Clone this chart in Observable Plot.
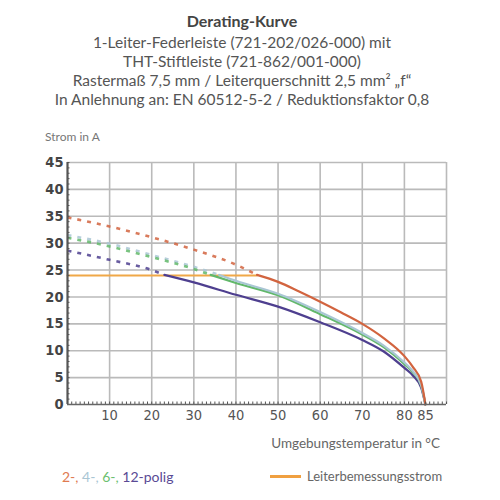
<!DOCTYPE html>
<html>
<head>
<meta charset="utf-8">
<script src="https://cdn.jsdelivr.net/npm/d3@7"></script>
<script src="https://cdn.jsdelivr.net/npm/@observablehq/plot@0.6"></script>
<style>
  html, body { margin: 0; padding: 0; background: #fff; }
  body { width: 500px; height: 500px; position: relative; overflow: hidden; font-family: Lato, "Open Sans", sans-serif; color: #555; }
  .t { position: absolute; left: 0; width: 484px; text-align: center; white-space: nowrap; }
  #title { top: 11px; font-size: 16px; font-weight: bold; color: #444; }
  .sub { font-size: 15.5px; color: #555; }
  #ylab { position: absolute; left: 45px; top: 129px; font-size: 12px; color: #777; }
  #chart { position: absolute; left: 0; top: 145px; }
  #xlab { position: absolute; right: 60px; top: 435px; font-size: 13.5px; color: #666; }
  #leg1 { position: absolute; left: 62px; top: 468px; font-size: 14px; }
  #leg2 { position: absolute; left: 270px; top: 468px; font-size: 13px; color: #666; display: flex; align-items: center; }
  #leg2 span.sw { display: inline-block; width: 31px; height: 3px; background: #f0a040; margin-right: 6px; }
</style>
</head>
<body>
<div id="title" class="t">Derating-Kurve</div>
<div class="t sub" style="top:33px">1-Leiter-Federleiste (721-202/026-000) mit</div>
<div class="t sub" style="top:52px">THT-Stiftleiste (721-862/001-000)</div>
<div class="t sub" style="top:71px">Rastermaß 7,5 mm / Leiterquerschnitt 2,5 mm² „f“</div>
<div class="t sub" style="top:90px">In Anlehnung an: EN 60512-5-2 / Reduktionsfaktor 0,8</div>
<div id="ylab">Strom in A</div>
<div id="chart"></div>
<div id="xlab">Umgebungstemperatur in °C</div>
<div id="leg1"><span style="color:#e07a50">2-,</span> <span style="color:#a9c6d4">4-,</span> <span style="color:#6cc070">6-,</span> <span style="color:#5a4a95">12-polig</span></div>
<div id="leg2"><span class="sw"></span>Leiterbemessungsstrom</div>
<script>
// ---- data (temperature °C, current A) ----
const pol2Dashed  = [[0,34.8],[10,33.1],[20,31.1],[30,28.8],[40,26.0],[45,24.1]];
const pol2Solid   = [[45,24.1],[50,22.8],[55,21.0],[60,19.1],[65,17.1],[70,15.0],[75,12.4],[80,9.0],[82,7.0],[84,4.2],[85,0]];
const pol4Dashed  = [[0,31.5],[10,29.9],[20,27.8],[30,25.6],[36,24.1]];
const pol4Solid   = [[36,24.1],[40,23.0],[50,20.6],[60,17.2],[70,13.3],[75,11.0],[80,7.8],[82,6.2],[84,3.6],[85,0]];
const pol6Dashed  = [[0,31.0],[10,29.4],[20,27.4],[30,25.2],[34,24.1]];
const pol6Solid   = [[34,24.1],[40,22.6],[50,20.3],[60,16.8],[70,13.0],[75,10.7],[80,7.5],[82,6.0],[84,3.5],[85,0]];
const pol12Dashed = [[0,28.6],[10,26.9],[20,25.0],[23,24.1]];
const pol12Solid  = [[23,24.1],[30,22.7],[40,20.4],[50,18.2],[60,15.3],[70,12.0],[75,9.9],[80,6.8],[82,5.4],[84,3.1],[85,0]];
const ratedCurrent = [[0,24],[45,24]];
const xTicks = [10,20,30,40,50,60,70,80,85];
const yTicks = [0,5,10,15,20,25,30,35,40,45];
const xGrid = [10,20,30,40,50,60,70,80,90];
const yGrid = [5,10,15,20,25,30,35,40,45];
const xMinor = d3.range(0, 91, 1);
const yMinor = d3.range(0, 46, 1);

const C2 = "#d2643f", C4 = "#a9c6d4", C6 = "#62b86a", C12 = "#4e3f8f", CR = "#f0a848";
const dash = "4,6";
const line = (data, stroke, dashed) => Plot.line(data, {
  x: d => d[0], y: d => d[1], stroke, strokeWidth: dashed ? 2.6 : 2.2,
  strokeOpacity: dashed ? 0.85 : 1,
  strokeLinecap: dashed ? "butt" : "round",
  strokeDasharray: dashed ? dash : null, curve: "monotone-x"
});

const chart = Plot.plot({
  width: 500, height: 290,
  marginTop: 17, marginBottom: 31, marginLeft: 67, marginRight: 54,
  x: {domain: [0, 90]},
  y: {domain: [0, 45]},
  style: {fontFamily: "'Liberation Sans Narrow', 'DejaVu Sans Condensed', sans-serif", fontSize: "14.5px", background: "white", color: "#555"},
  marks: [
    Plot.ruleX(xGrid, {stroke: "#bababa", strokeWidth: 1.6}),
    Plot.ruleY(yGrid, {stroke: "#bababa", strokeWidth: 1.6}),
    Plot.line(ratedCurrent, {x: d => d[0], y: d => d[1], stroke: CR, strokeWidth: 2}),
    line(pol2Dashed, C2, true),
    line(pol4Dashed, C4, true),
    line(pol6Dashed, C6, true),
    line(pol12Dashed, C12, true),
    line(pol12Solid, C12, false),
    line(pol6Solid, C6, false),
    line(pol4Solid, C4, false),
    line(pol2Solid, C2, false),
    Plot.axisX({ticks: xMinor, tickSize: -2.5, tickFormat: () => "", label: null, stroke: "#555"}),
    Plot.axisY({ticks: yMinor, tickSize: -2.5, tickFormat: () => "", label: null, stroke: "#555"}),
    Plot.ruleX([0], {stroke: "#555", strokeWidth: 2.2}),
    Plot.ruleY([0], {stroke: "#666", strokeWidth: 1.6}),
    Plot.axisX({ticks: xTicks, tickSize: 0, tickPadding: 5, label: null, color: "#555"}),
    Plot.axisY({ticks: yTicks, tickSize: 0, tickPadding: 4, label: null, color: "#444", fontWeight: "bold"})
  ]
});
document.getElementById("chart").appendChild(chart);
</script>
</body>
</html>
